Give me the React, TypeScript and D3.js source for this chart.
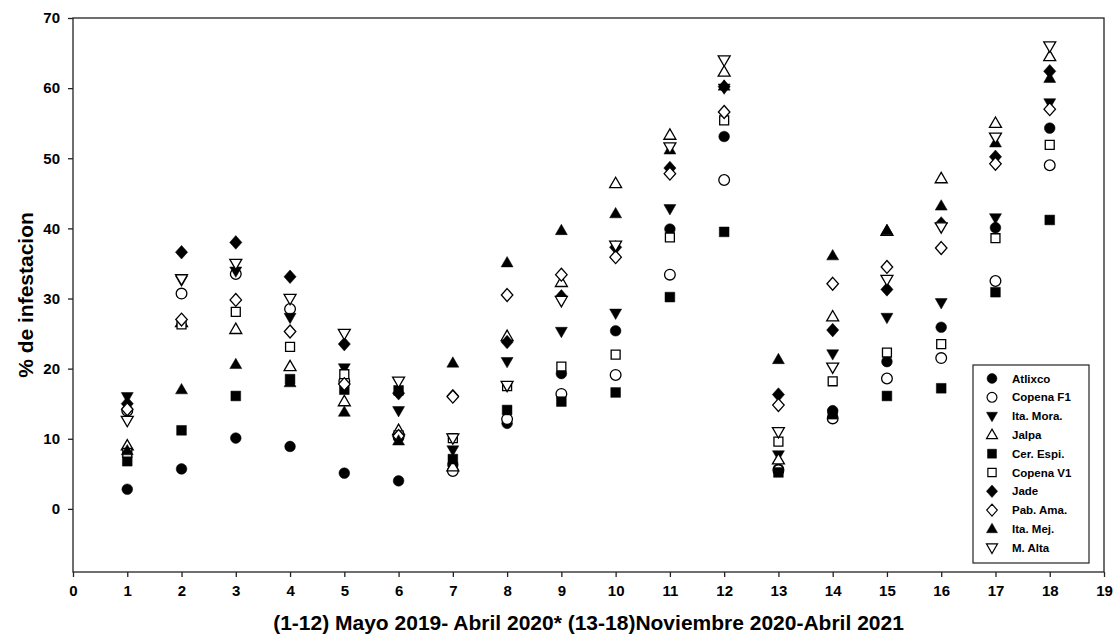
import React, { useEffect, useRef } from 'react';
import * as d3 from 'd3';

// muestreos 1..18
const months = d3.range(1, 19);

const seriesNames = ['Atlixco', 'Copena F1', 'Ita. Mora.', 'Jalpa', 'Cer. Espi.', 'Copena V1', 'Jade', 'Pab. Ama.', 'Ita. Mej.', 'M. Alta'];

const atlixco = [2.8, 5.7, 10.1, 8.9, 5.1, 4.0, 6.3, 12.2, 19.3, 25.4, 39.9, 53.1, 5.7, 14.0, 21.0, 25.9, 40.1, 54.3];
const copenaF1 = [14.0, 30.7, 33.5, 28.5, 18.2, 10.3, 5.4, 12.8, 16.4, 19.1, 33.4, 46.9, 5.5, 12.9, 18.6, 21.5, 32.5, 49.0];
const itaMora = [16.0, 32.6, 33.9, 27.3, 20.1, 14.0, 8.4, 21.0, 25.3, 27.9, 42.8, 60.0, 7.7, 22.1, 27.3, 29.4, 41.5, 57.9];
const jalpa = [9.0, 26.6, 25.6, 20.3, 15.3, 11.2, 6.0, 24.6, 32.3, 46.4, 53.3, 62.3, 7.0, 27.4, 39.6, 47.1, 55.0, 64.5];
const cerEspi = [6.8, 11.2, 16.1, 18.5, 17.0, 16.9, 7.1, 14.1, 15.3, 16.6, 30.2, 39.5, 5.2, 13.5, 16.1, 17.2, 30.9, 41.2];
const copenaV1 = [8.0, 26.3, 28.1, 23.1, 19.2, 10.5, 10.1, 17.5, 20.3, 22.0, 38.7, 55.4, 9.6, 18.2, 22.3, 23.5, 38.6, 51.9];
const jade = [15.0, 36.6, 38.0, 33.1, 23.5, 16.5, 16.1, 23.8, 30.3, 37.3, 48.6, 60.2, 16.3, 25.5, 31.3, 40.7, 50.2, 62.4];
const pabAma = [14.2, 27.0, 29.8, 25.3, 17.8, 10.4, 16.0, 30.5, 33.4, 35.9, 47.8, 56.6, 14.8, 32.1, 34.5, 37.2, 49.2, 57.0];
const itaMej = [8.3, 17.0, 20.6, 18.0, 13.8, 9.7, 20.8, 35.1, 39.7, 42.1, 51.2, 60.3, 21.3, 36.1, 39.7, 43.2, 52.2, 61.4];
const mAlta = [12.6, 32.8, 35.0, 30.0, 25.0, 18.2, 10.1, 17.6, 29.7, 37.6, 51.6, 64.0, 11.0, 20.2, 32.7, 40.2, 53.0, 66.0];

const seriesValues = [atlixco, copenaF1, itaMora, jalpa, cerEspi, copenaV1, jade, pabAma, itaMej, mAlta];

const xTicks = d3.range(0, 20);
const yTicks = d3.range(0, 80, 10);

// marcadores estilo SigmaPlot
const circle = { draw(ctx: any, size: number) { const r = Math.sqrt(size / Math.PI); ctx.moveTo(r, 0); ctx.arc(0, 0, r, 0, 2 * Math.PI); } };
const square = { draw(ctx: any, size: number) { const s = Math.sqrt(size) / 2; ctx.rect(-s, -s, 2 * s, 2 * s); } };
const diamond = { draw(ctx: any, size: number) { const r = Math.sqrt(size / 2); ctx.moveTo(0, -r * 1.12); ctx.lineTo(r, 0); ctx.lineTo(0, r * 1.12); ctx.lineTo(-r, 0); ctx.closePath(); } };
const triUp = { draw(ctx: any, size: number) { const s = Math.sqrt(size * 4 / Math.sqrt(3)); const h = s * Math.sqrt(3) / 2; ctx.moveTo(0, -h * 0.6); ctx.lineTo(s / 2, h * 0.4); ctx.lineTo(-s / 2, h * 0.4); ctx.closePath(); } };
const triDown = { draw(ctx: any, size: number) { const s = Math.sqrt(size * 4 / Math.sqrt(3)); const h = s * Math.sqrt(3) / 2; ctx.moveTo(0, h * 0.6); ctx.lineTo(s / 2, -h * 0.4); ctx.lineTo(-s / 2, -h * 0.4); ctx.closePath(); } };

const markerTypes = [circle, circle, triDown, triUp, square, square, diamond, diamond, triUp, triDown];
const markerSizes = [90, 90, 62, 62, 95, 80, 74, 66, 62, 62];
const markerFilled = [true, false, true, false, true, false, true, false, true, false];

const App = () => {
    const ref = useRef<SVGSVGElement>(null);

    useEffect(() => {
        const svg = d3.select(ref.current);
        svg.selectAll('*').remove();

        const left = 73, right = 1104, top = 18, bottom = 572;
        const font = '"Liberation Sans", Arial, sans-serif';

        const x = d3.scaleLinear().domain([0, 19]).range([left, right]);
        const y = d3.scaleLinear().domain([-9, 70]).range([bottom, top]);

        // marco
        svg.append('rect')
            .attr('x', left).attr('y', top)
            .attr('width', right - left).attr('height', bottom - top)
            .attr('fill', 'none').attr('stroke', '#222').attr('stroke-width', 1.3);

        const xAxis = svg.append('g')
            .attr('transform', `translate(0,${bottom})`)
            .call(d3.axisBottom(x).tickValues(xTicks).tickSize(5).tickPadding(8).tickFormat(d3.format('d')));
        const yAxis = svg.append('g')
            .attr('transform', `translate(${left},0)`)
            .call(d3.axisLeft(y).tickValues(yTicks).tickSize(5).tickPadding(8).tickFormat(d3.format('d')));

        [xAxis, yAxis].forEach(g => {
            g.select('.domain').remove();
            g.selectAll('line').attr('stroke', '#222').attr('stroke-width', 1.3);
            g.selectAll('text')
                .attr('font-family', font)
                .attr('font-weight', 'bold')
                .attr('font-size', 15)
                .attr('fill', '#000');
        });

        // puntos
        seriesNames.forEach((name, i) => {
            const sym = d3.symbol().type(markerTypes[i] as any).size(markerSizes[i]);
            svg.append('g')
                .selectAll('path')
                .data(seriesValues[i])
                .enter().append('path')
                .attr('transform', (d, j) => `translate(${x(months[j])},${y(d)})`)
                .attr('d', sym() as string)
                .attr('fill', markerFilled[i] ? '#000' : '#fff')
                .attr('stroke', '#000')
                .attr('stroke-width', markerFilled[i] ? 0.5 : 1.3)
                .append('title')
                .text((d, j) => `${name} ${months[j]}: ${d}`);
        });

        // leyenda
        const lg = svg.append('g');
        lg.append('rect')
            .attr('x', 973).attr('y', 365)
            .attr('width', 116).attr('height', 198)
            .attr('fill', '#fff').attr('stroke', '#222').attr('stroke-width', 1.2);
        seriesNames.forEach((name, i) => {
            const yy = 378.5 + i * 18.8;
            const sym = d3.symbol().type(markerTypes[i] as any).size(markerSizes[i] * 0.85);
            lg.append('path')
                .attr('transform', `translate(992,${yy})`)
                .attr('d', sym() as string)
                .attr('fill', markerFilled[i] ? '#000' : '#fff')
                .attr('stroke', '#000')
                .attr('stroke-width', markerFilled[i] ? 0.5 : 1.2);
            lg.append('text')
                .attr('x', 1012).attr('y', yy)
                .attr('dy', '0.35em')
                .attr('font-family', font)
                .attr('font-weight', 'bold')
                .attr('font-size', 11.5)
                .text(name);
        });

        // titulos de ejes
        svg.append('text')
            .attr('x', (left + right) / 2).attr('y', 630)
            .attr('text-anchor', 'middle')
            .attr('font-family', font)
            .attr('font-weight', 'bold')
            .attr('font-size', 21)
            .text('(1-12) Mayo 2019- Abril 2020* (13-18)Noviembre 2020-Abril 2021');

        svg.append('text')
            .attr('transform', `translate(33,${(top + bottom) / 2}) rotate(-90)`)
            .attr('text-anchor', 'middle')
            .attr('font-family', font)
            .attr('font-weight', 'bold')
            .attr('font-size', 21)
            .text('% de infestacion');
    }, []);

    return (
        <div style={{ position: 'fixed', left: 0, top: 0, background: '#fff' }}>
            <svg ref={ref} width={1116} height={635} style={{ display: 'block' }} />
        </div>
    );
};

export default App;
